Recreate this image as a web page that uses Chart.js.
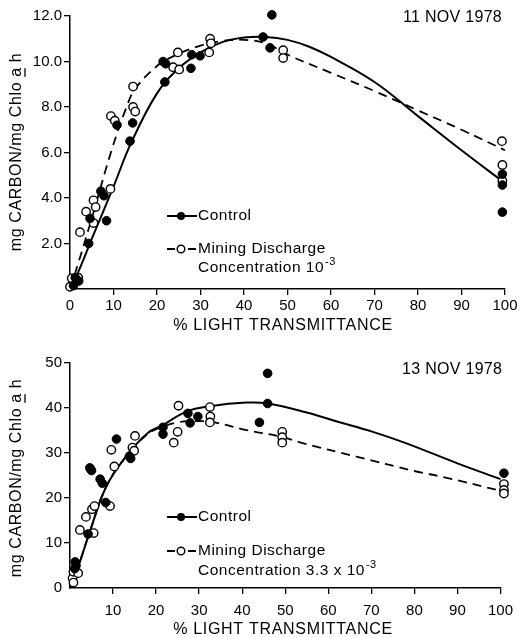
<!DOCTYPE html>
<html>
<head>
<meta charset="utf-8">
<script src="https://cdn.jsdelivr.net/npm/chart.js@4.4.0/dist/chart.umd.min.js"></script>
<style>
body { margin: 0; background: #fff; }
#wrap { position: relative; width: 521px; height: 638px; }
canvas { position: absolute; left: 0; }
</style>
</head>
<body>
<div id="wrap">
<canvas id="chartTop" width="521" height="335" style="top:0"></canvas>
<canvas id="chartBot" width="521" height="303" style="top:335px"></canvas>
</div>
<script>
// 11 NOV 1978
var nov11ControlX = [0.8, 1.2, 2.0, 4.3, 4.6, 7.1, 7.8, 8.4, 10.8, 13.8, 14.4, 21.4, 22.0, 21.8, 27.8, 28.0, 29.9, 44.4, 46.4, 46.0, 99.4, 99.4, 99.4];
var nov11ControlY = [0.15, 0.5, 0.35, 2.0, 3.1, 4.3, 4.1, 3.0, 7.2, 6.5, 7.3, 10.0, 9.9, 9.1, 9.7, 10.3, 10.25, 11.08, 12.05, 10.6, 5.05, 4.57, 3.38];
var nov11MiningX = [0.0, 0.4, 1.9, 2.3, 3.7, 5.4, 5.9, 5.4, 9.3, 9.4, 10.3, 14.5, 14.5, 15.0, 23.7, 25.1, 24.8, 32.0, 32.2, 32.4, 49.0, 49.0, 99.3, 99.4, 99.4];
var nov11MiningY = [0.1, 0.47, 0.5, 2.5, 3.4, 3.9, 3.6, 2.9, 4.4, 7.6, 7.4, 8.9, 8.0, 7.8, 9.75, 9.65, 10.4, 10.4, 11.0, 10.8, 10.5, 10.15, 6.5, 5.45, 4.75];
var nov11ControlFitX = [0, 2, 5, 10, 14, 20, 25, 30, 35, 40, 45, 50, 55, 60, 70, 80, 90, 100];
var nov11ControlFitY = [0, 0.8, 2.2, 4.5, 6.4, 8.6, 9.7, 10.4, 10.85, 11.05, 11.08, 10.95, 10.65, 10.2, 9.1, 7.6, 6.1, 4.65];
var nov11MiningFitX = [0, 2, 5, 9.4, 13, 15, 20, 24, 30, 35, 40, 45, 50, 60, 70, 80, 90, 100];
var nov11MiningFitY = [0, 1.2, 3.1, 6.0, 8.0, 8.8, 9.8, 10.25, 10.7, 10.9, 10.95, 10.8, 10.3, 9.5, 8.7, 7.85, 7.0, 6.1];
var nov11YTicks = [0, 2, 4, 6, 8, 10, 12];

// 13 NOV 1978
var nov13ControlX = [1.1, 1.2, 1.4, 4.2, 4.6, 4.8, 5.0, 7.0, 7.5, 8.3, 10.8, 13.8, 14.1, 21.6, 21.6, 27.4, 27.9, 29.7, 44.0, 45.9, 45.9, 100.8];
var nov13ControlY = [4.3, 5.8, 5.0, 12.0, 26.7, 26.4, 26.1, 24.2, 23.3, 19.0, 33.1, 29.3, 28.8, 35.7, 34.2, 38.8, 36.7, 38.1, 36.8, 47.7, 41.0, 25.5];
var nov13MiningX = [0.6, 0.8, 0.8, 1.9, 2.3, 3.7, 5.1, 5.5, 5.7, 9.3, 9.6, 10.3, 14.5, 14.9, 15.1, 24.1, 25.0, 25.2, 32.5, 32.6, 32.5, 49.3, 49.3, 49.3, 100.8, 100.8, 100.8];
var nov13MiningY = [2.2, 1.2, 3.6, 3.3, 12.9, 15.8, 17.5, 12.2, 18.2, 18.2, 30.7, 27.0, 31.2, 30.5, 33.8, 32.3, 34.7, 40.5, 40.2, 38.1, 36.8, 34.7, 33.5, 32.3, 23.1, 21.8, 21.0];
var nov13ControlFitX = [0, 2, 4.6, 8.4, 13, 18, 21.6, 27, 32.5, 41, 46, 55, 62, 70, 78, 90, 100];
var nov13ControlFitY = [0, 5, 12.5, 22.5, 29.2, 34.4, 36.2, 39.2, 40.4, 41.2, 41.0, 39.0, 37.0, 34.8, 32.2, 27.7, 24.2];
var nov13MiningFitX = [0, 2, 4.6, 8.4, 13, 18, 21, 25, 30, 33.6, 41, 49, 54, 66.5, 80, 87, 100];
var nov13MiningFitY = [0, 5, 12.5, 22.5, 29.2, 34.2, 35.6, 36.8, 37.1, 36.8, 35.1, 33.6, 32.2, 29.2, 26.0, 24.6, 21.6];
var nov13YTicks = [0, 10, 20, 30, 40, 50];

var xTicks = [0, 10, 20, 30, 40, 50, 60, 70, 80, 90, 100];
var yTitle = ["mg CARBON/mg Chlo ", "a", " h"];
var xTitle = "% LIGHT TRANSMITTANCE";
var legendControl = "Control";
var legendMining = "Mining Discharge";

var FONT = '"Liberation Sans", Arial, sans-serif';

function pts(xs, ys) {
    return xs.map(function (x, i) { return { x: x, y: ys[i] }; });
}

var figText = {
    id: 'figText',
    afterDraw: function (chart, args, o) {
        var c = chart.ctx;
        c.save();
        c.fillStyle = '#000';
        c.strokeStyle = '#000';
        c.textBaseline = 'middle';
        c.textAlign = 'left';

        // date
        c.font = '16px ' + FONT;
        c.letterSpacing = '0.3px';
        c.fillText(o.date, o.dateX, o.dateY);

        // x title
        c.textAlign = 'center';
        c.letterSpacing = '0.7px';
        c.fillText(xTitle, 283, o.xTitleY);

        // y title, "a" underlined
        c.save();
        c.translate(17, o.yTitleY);
        c.rotate(-Math.PI / 2);
        c.textAlign = 'left';
        c.letterSpacing = '0.6px';
        var full = yTitle.join('');
        var w = c.measureText(full).width;
        var x0 = -w / 2;
        c.fillText(full, x0, 0);
        var wa = c.measureText(yTitle[0]).width;
        var wb = c.measureText(yTitle[1]).width;
        c.lineWidth = 1.3;
        c.beginPath();
        c.moveTo(x0 + wa, 8);
        c.lineTo(x0 + wa + wb - 1, 8);
        c.stroke();
        c.restore();

        // legend
        c.textAlign = 'left';
        c.letterSpacing = '0.5px';
        c.font = '15.5px ' + FONT;
        var lx = 167;
        c.lineWidth = 2;
        c.beginPath();
        c.moveTo(lx, o.legY1);
        c.lineTo(lx + 30, o.legY1);
        c.stroke();
        c.beginPath();
        c.arc(lx + 14, o.legY1, 4, 0, Math.PI * 2);
        c.fill();
        c.fillText(legendControl, lx + 31, o.legY1);

        c.lineWidth = 1.8;
        c.beginPath();
        c.moveTo(lx, o.legY2);
        c.lineTo(lx + 8, o.legY2);
        c.moveTo(lx + 21, o.legY2);
        c.lineTo(lx + 29, o.legY2);
        c.stroke();
        c.lineWidth = 1.4;
        c.beginPath();
        c.arc(lx + 14, o.legY2, 3.8, 0, Math.PI * 2);
        c.stroke();
        c.fillText(legendMining, lx + 31, o.legY2);

        var base = o.concText;
        c.fillText(base, lx + 31, o.legY3);
        var bw = c.measureText(base).width;
        c.font = '11px ' + FONT;
        c.fillText('-3', lx + 31 + bw + 1, o.legY3 - 6);
        c.restore();
    }
};

function makeChart(id, d) {
    var tickColor = function (ctx) { return ctx.tick && ctx.tick.value === 0 ? 'rgba(0,0,0,0)' : '#000'; };
    return new Chart(document.getElementById(id).getContext('2d'), {
        type: 'scatter',
        data: {
            datasets: [
                {
                    label: 'Control',
                    data: pts(d.cx, d.cy),
                    pointRadius: 4.3,
                    pointBackgroundColor: '#000',
                    pointBorderColor: '#000',
                    pointBorderWidth: 1
                },
                {
                    label: 'Mining',
                    data: pts(d.mx, d.my),
                    pointRadius: 4.2,
                    pointBackgroundColor: '#fff',
                    pointBorderColor: '#000',
                    pointBorderWidth: 1.4
                },
                {
                    label: 'Control fit',
                    type: 'line',
                    data: pts(d.cfx, d.cfy),
                    showLine: true,
                    pointRadius: 0,
                    borderColor: '#000',
                    borderWidth: 2,
                    tension: 0.4,
                    fill: false
                },
                {
                    label: 'Mining fit',
                    type: 'line',
                    data: pts(d.mfx, d.mfy),
                    showLine: true,
                    pointRadius: 0,
                    borderColor: '#000',
                    borderWidth: 1.8,
                    borderDash: [9, 6],
                    tension: 0.4,
                    fill: false
                }
            ]
        },
        options: {
            responsive: false,
            animation: { duration: 0 },
            clip: false,
            layout: { padding: { left: 0, right: d.padRight, top: d.padTop, bottom: 0 } },
            plugins: {
                legend: { display: false },
                tooltip: { enabled: false },
                figText: d.text
            },
            scales: {
                x: {
                    type: 'linear',
                    min: 0,
                    max: 100,
                    afterBuildTicks: function (s) { s.ticks = xTicks.map(function (v) { return { value: v }; }); },
                    afterFit: function (s) { s.height = d.xHeight; },
                    ticks: {
                        color: '#000',
                        font: { family: FONT, size: 15 },
                        padding: d.xPad,
                        maxRotation: 0,
                        callback: function (v) { return (v === 0 && !d.xZero) ? '' : String(v); }
                    },
                    grid: { drawOnChartArea: false, drawTicks: true, tickLength: 6, color: tickColor, lineWidth: 1.3 },
                    border: { display: true, color: '#000', width: 1.5 }
                },
                y: {
                    type: 'linear',
                    min: 0,
                    max: d.yMax,
                    afterBuildTicks: function (s) { s.ticks = d.yTicks.map(function (v) { return { value: v }; }); },
                    afterFit: function (s) { s.width = 70; },
                    ticks: {
                        color: '#000',
                        font: { family: FONT, size: 15 },
                        padding: 2,
                        callback: function (v) {
                            if (v === 0) return d.yZero ? '0' : '';
                            return d.yFixed ? v.toFixed(1) : String(v);
                        }
                    },
                    grid: { drawOnChartArea: false, drawTicks: true, tickLength: 6, color: tickColor, lineWidth: 1.3 },
                    border: { display: true, color: '#000', width: 1.5 }
                }
            }
        },
        plugins: [figText]
    });
}

makeChart('chartTop', {
    cx: nov11ControlX, cy: nov11ControlY, mx: nov11MiningX, my: nov11MiningY,
    cfx: nov11ControlFitX, cfy: nov11ControlFitY, mfx: nov11MiningFitX, mfy: nov11MiningFitY,
    yMax: 12, yTicks: nov11YTicks, yFixed: true, yZero: false, xZero: true,
    padTop: 16, padRight: 16, xHeight: 46, xPad: 2,
    text: { date: '11 NOV 1978', dateX: 403, dateY: 18, xTitleY: 326, yTitleY: 152, legY1: 216, legY2: 249, legY3: 268, concText: 'Concentration 10' }
});

makeChart('chartBot', {
    cx: nov13ControlX, cy: nov13ControlY, mx: nov13MiningX, my: nov13MiningY,
    cfx: nov13ControlFitX, cfy: nov13ControlFitY, mfx: nov13MiningFitX, mfy: nov13MiningFitY,
    yMax: 50, yTicks: nov13YTicks, yFixed: false, yZero: true, xZero: false,
    padTop: 28, padRight: 15, xHeight: 50, xPad: 8,
    text: { date: '13 NOV 1978', dateX: 402, dateY: 35, xTitleY: 295, yTitleY: 143, legY1: 182, legY2: 216, legY3: 236, concText: 'Concentration 3.3 x 10' }
});
</script>
</body>
</html>
